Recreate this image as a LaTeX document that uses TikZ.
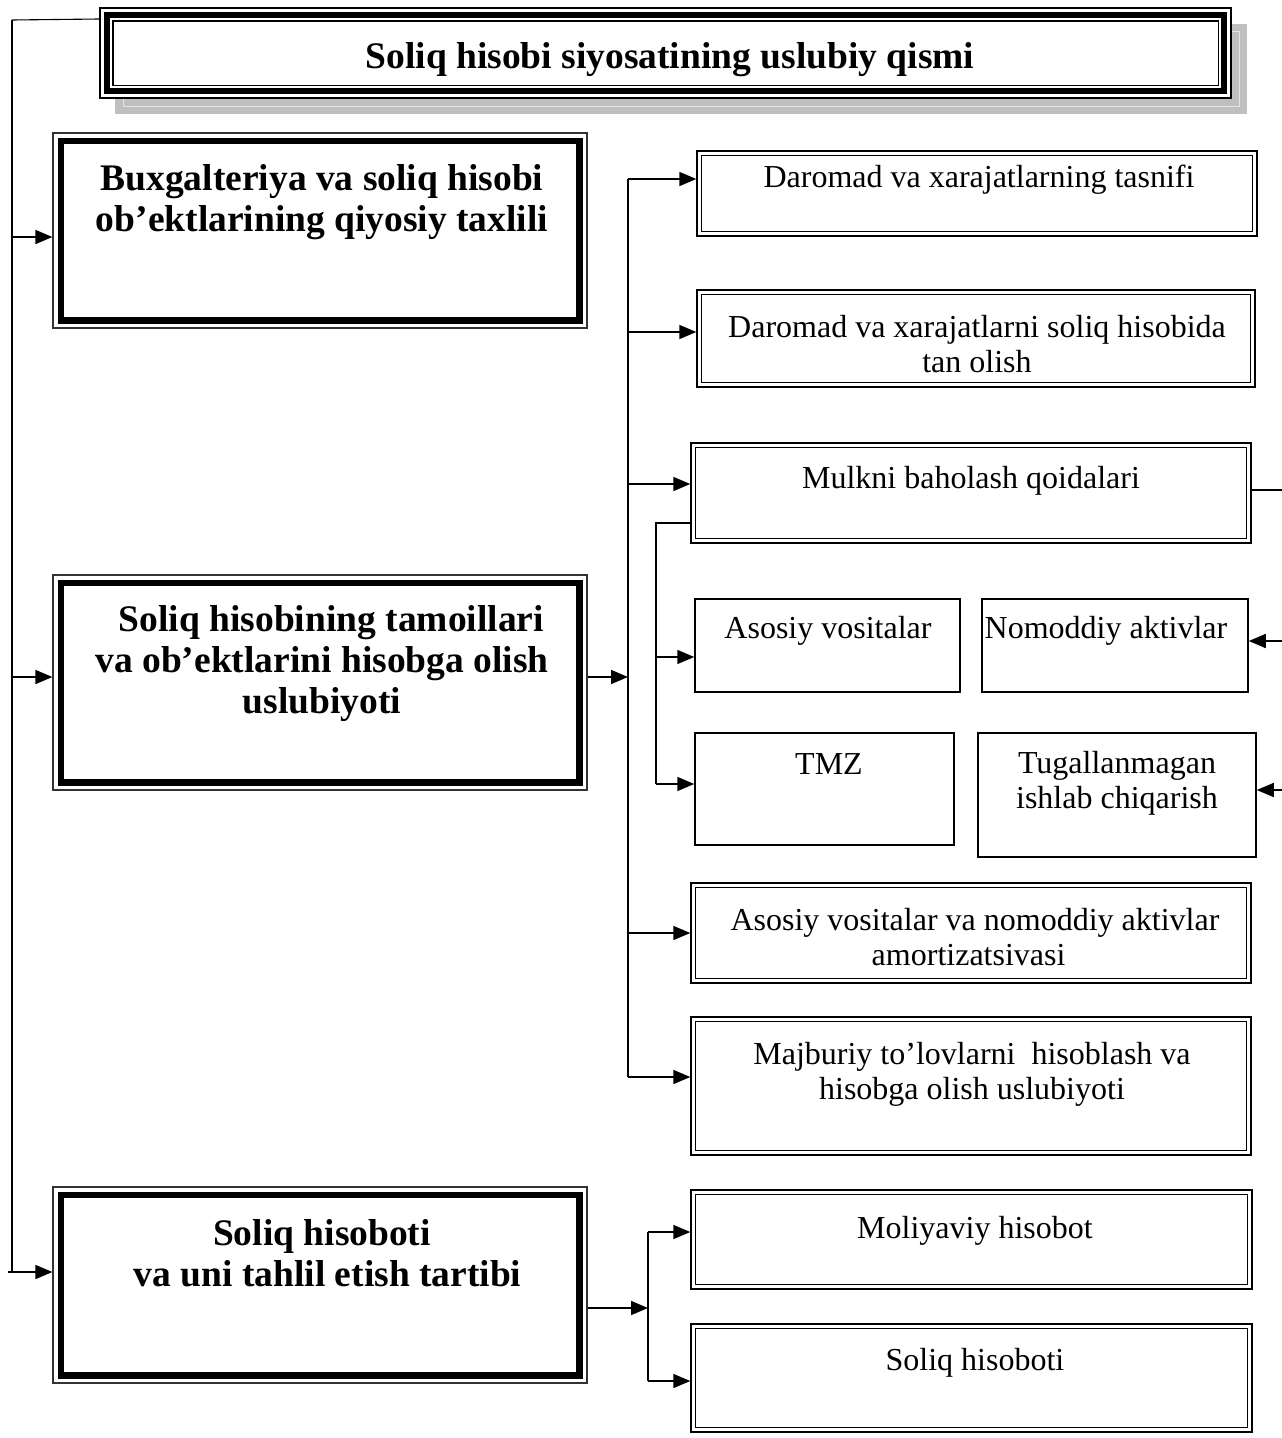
\documentclass[tikz,border=0pt]{standalone}
\usepackage{fontspec}
\setmainfont{Liberation Serif}
\usetikzlibrary{arrows.meta,fit,calc}
% centred block of lines whose baseline is the first line
\newcommand{\mlines}[1]{\begin{tabular}[t]{@{}c@{}}#1\end{tabular}}

\begin{document}
\begin{tikzpicture}[x=1pt,y=-1pt,
  conn/.style={line width=1.6pt},
  thinconn/.style={line width=1.1pt},
  arr/.style={line width=1.6pt,-{Triangle[length=17pt,width=14pt]}},
  reg/.style={font=\fontsize{32}{35}\selectfont},
  bld/.style={font=\fontsize{37.5}{41}\selectfont\bfseries},
  txt/.style={inner sep=0pt, anchor=base},
  % heading frame: thin line, white gap, heavy band, white gap, thin line
  headbox/.style={draw, line width=2pt, fill=white, inner sep=0pt,
    path picture={
      \draw[black, line width=20pt] (path picture bounding box.north west) rectangle (path picture bounding box.south east);
      \draw[white, line width=8pt] (path picture bounding box.north west) rectangle (path picture bounding box.south east);
      \draw[black, line width=1.5pt] ([shift={(12.75,12.75)}]path picture bounding box.north west) rectangle ([shift={(-12.75,-12.75)}]path picture bounding box.south east);
    }},
  % main-block frame: thin outer line, gap, heavy band
  lbox/.style={draw=black!80, line width=1.2pt, fill=white, inner sep=0pt,
    path picture={
      \draw[black, line width=22pt] (path picture bounding box.north west) rectangle (path picture bounding box.south east);
      \draw[white, line width=9pt] (path picture bounding box.north west) rectangle (path picture bounding box.south east);
    }},
  % double-line frame
  rbox/.style={draw, line width=1.4pt, fill=white, inner sep=0pt,
    path picture={
      \draw[black, line width=1.4pt] ([shift={(4.5,4.5)}]path picture bounding box.north west) rectangle ([shift={(-4.5,-4.5)}]path picture bounding box.south east);
    }},
  % single-line frame
  sbox/.style={draw, line width=1.5pt, fill=white, inner sep=0pt},
]
\useasboundingbox (0,0) rectangle (1282,1438);
\fill[white] (0,0) rectangle (1282,1438);

% ---------- heading with its shadow ----------
\fill[black!25] (115,24) rectangle (1247,114);
\draw[black!10, line width=1pt] (123,31) rectangle (1239,106);
\node[headbox, fit={(100,8) (1231,98)}] (title) {};
\node[txt, bld] (ttitle) at (670,68) {Soliq hisobi siyosatining uslubiy qismi};

% ---------- main blocks ----------
\node[lbox, fit={(53,133) (587,328)}] (b1) {};
\node[txt, bld] (tb1) at (322,190) {\mlines{Buxgalteriya va soliq hisobi\\ob’ektlarining qiyosiy taxlili}};

\node[lbox, fit={(53,575) (587,790)}] (b2) {};
\node[txt, bld] (tb2) at (322,631) {\mlines{\hspace*{0.5em}Soliq hisobining tamoillari\\va ob’ektlarini hisobga olish\\uslubiyoti}};

\node[lbox, fit={(53,1187) (587,1383)}] (b3) {};
\node[txt, bld] (tb3) at (322,1245) {\mlines{Soliq hisoboti\\\hspace*{0.3em}va uni tahlil etish tartibi}};

% ---------- right column ----------
\node[rbox, fit={(697,151) (1257,236)}] (r1) {};
\node[txt, reg] (tr1) at (979,187) {Daromad va xarajatlarning tasnifi};

\node[rbox, fit={(697,290) (1255,387)}] (r2) {};
\node[txt, reg] (tr2) at (977,337) {\mlines{Daromad va xarajatlarni soliq hisobida\\tan olish}};

\node[rbox, fit={(691,443) (1251,543)}] (r3) {};
\node[txt, reg] (tr3) at (971,488) {Mulkni baholash qoidalari};

\node[sbox, fit={(695,599) (960,692)}] (av) {};
\node[txt, reg] (tav) at (828,638) {Asosiy vositalar};

\node[sbox, fit={(982,599) (1248,692)}] (na) {};
\node[txt, reg] (tna) at (1106,638) {Nomoddiy aktivlar};

\node[sbox, fit={(695,733) (954,845)}] (tmz) {};
\node[txt, reg] (ttmz) at (829,774) {TMZ};

\node[sbox, fit={(978,733) (1256,857)}] (tg) {};
\node[txt, reg] (ttg) at (1117,773) {\mlines{Tugallanmagan\\ishlab chiqarish}};

\node[rbox, fit={(691,883) (1251,983)}] (r4) {};
\node[txt, reg] (tr4) at (975,930) {\mlines{Asosiy vositalar va nomoddiy aktivlar\\\hspace*{-0.4em}amortizatsivasi}};

\node[rbox, fit={(691,1017) (1251,1155)}] (r5) {};
\node[txt, reg] (tr5) at (972,1064) {\mlines{Majburiy to’lovlarni~ hisoblash va\\hisobga olish uslubiyoti}};

\node[rbox, fit={(691,1190) (1252,1289)}] (r6) {};
\node[txt, reg] (tr6) at (975,1238) {Moliyaviy hisobot};

\node[rbox, fit={(691,1324) (1252,1432)}] (r7) {};
\node[txt, reg] (tr7) at (975,1370) {Soliq hisoboti};

% ---------- connectors ----------
% left spine from the heading
\coordinate (sl) at (12,20);
\coordinate (sl3) at (12,1272);
\draw[thinconn] ([yshift=-12pt]title.north west) -- (sl);
\draw[conn] (sl) -- (sl3);
\coordinate (sl1) at (12,237);
\coordinate (sl2) at (12,677);
\draw[arr] (sl1) -- (sl1 -| b1.west);
\draw[arr] (sl2) -- (sl2 -| b2.west);
\draw[arr] ([xshift=-4pt]sl3) -- (sl3 -| b3.west);

% second block to its spine
\coordinate (c2) at (628,677);
\draw[arr] (c2 -| b2.east) -- (c2);
\coordinate (m1) at (628,179);
\coordinate (m2) at (628,332);
\coordinate (m3) at (628,484);
\coordinate (m4) at (628,933);
\coordinate (m5) at (628,1077);
\draw[conn] (m1) -- (m5);
\draw[arr] (m1) -- (m1 -| r1.west);
\draw[arr] (m2) -- (m2 -| r2.west);
\draw[arr] (m3) -- (m3 -| r3.west);
\draw[arr] (m4) -- (m4 -| r4.west);
\draw[arr] (m5) -- (m5 -| r5.west);

% valuation rules to asset groups (left side)
\coordinate (v0) at (656,523);
\coordinate (v1) at (656,657);
\coordinate (v2) at (656,784);
\draw[conn] (v0 -| r3.west) -- (v0) -- (v2);
\draw[arr] (v1) -- (v1 -| av.west);
\draw[arr] (v2) -- (v2 -| tmz.west);

% valuation rules to asset groups (right side)
\coordinate (w0) at (1292,490);
\coordinate (w1) at (1292,641);
\coordinate (w2) at (1292,790);
\draw[thinconn] (w0 -| r3.east) -- (w0) -- (w2);
\draw[arr] (w1) -- (w1 -| na.east);
\draw[arr] (w2) -- (w2 -| tg.east);

% third block to its spine
\coordinate (c3) at (648,1308);
\draw[arr] (c3 -| b3.east) -- (c3);
\coordinate (n1) at (648,1232);
\coordinate (n2) at (648,1381);
\draw[conn] (n1) -- (n2);
\draw[arr] (n1) -- (n1 -| r6.west);
\draw[arr] (n2) -- (n2 -| r7.west);
\end{tikzpicture}
\end{document}
